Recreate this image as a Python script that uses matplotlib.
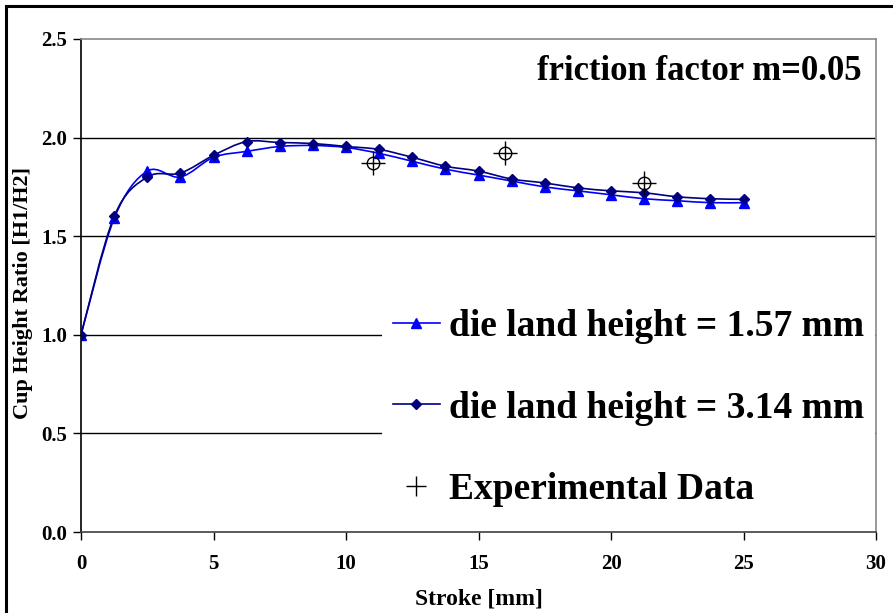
"""Cup height ratio against stroke for two die land heights, m = 0.05."""

import matplotlib

matplotlib.use("Agg")

import matplotlib.pyplot as plt
import numpy as np
from matplotlib.lines import Line2D
from matplotlib.patches import PathPatch, Rectangle
from matplotlib.path import Path

plt.rcParams["font.family"] = ["Liberation Serif", "DejaVu Serif"]
plt.rcParams["font.weight"] = "bold"

stroke = [0, 1.25, 2.5, 3.75, 5, 6.25, 7.5, 8.75, 10, 11.25, 12.5, 13.75,
          15, 16.25, 17.5, 18.75, 20, 21.25, 22.5, 23.75, 25]
ratio_157 = [1.00, 1.59, 1.83, 1.80, 1.90, 1.93, 1.955, 1.96, 1.95, 1.92, 1.88, 1.84,
             1.81, 1.78, 1.75, 1.73, 1.71, 1.69, 1.68, 1.67, 1.67]
ratio_314 = [1.00, 1.60, 1.80, 1.82, 1.91, 1.98, 1.975, 1.97, 1.955, 1.94, 1.90, 1.855,
             1.83, 1.79, 1.77, 1.745, 1.73, 1.72, 1.70, 1.69, 1.687]

exp_stroke = [11.0, 16.0, 21.25]
exp_ratio = [1.87, 1.92, 1.77]

x_ticks = [0, 5, 10, 15, 20, 25, 30]
y_ticks = [0.0, 0.5, 1.0, 1.5, 2.0, 2.5]

BLUE = "#0000FF"
NAVY = "#000080"


def smooth_path(xs, ys):
    """Catmull-Rom style cubic Bezier path through the points (like a smoothed line)."""
    pts = np.column_stack([xs, ys]).astype(float)
    verts = [pts[0]]
    codes = [Path.MOVETO]
    n = len(pts)
    for i in range(n - 1):
        p0 = pts[i - 1] if i > 0 else pts[i]
        p1 = pts[i]
        p2 = pts[i + 1]
        p3 = pts[i + 2] if i + 2 < n else pts[i + 1]
        c1 = p1 + (p2 - p0) / 6.0
        c2 = p2 - (p3 - p1) / 6.0
        verts += [c1, c2, p2]
        codes += [Path.CURVE4] * 3
    return Path(verts, codes)


fig = plt.figure(figsize=(8.93, 6.13), dpi=100)
ax = fig.add_axes([81 / 893, 1 - 532 / 613, (876 - 81) / 893, (532 - 39) / 613])

ax.set_xlim(0, 30)
ax.set_ylim(0, 2.5)
ax.set_xticks(x_ticks)
ax.set_yticks(y_ticks)
ax.set_xticklabels([str(t) for t in x_ticks])
ax.set_yticklabels([f"{t:.1f}" for t in y_ticks])
ax.tick_params(axis="both", labelsize=15, direction="out", length=6, width=1)
ax.tick_params(axis="x", pad=10)
ax.tick_params(axis="y", pad=4)

for y in y_ticks[1:-1]:
    ax.axhline(y, color="black", linewidth=1.0, zorder=0.5)

ax.spines["top"].set_color("#888888")
ax.spines["right"].set_color("#888888")
ax.spines["left"].set_color("black")
ax.spines["bottom"].set_color("#404040")
for side in ("top", "right", "left", "bottom"):
    ax.spines[side].set_linewidth(1.2)

# smoothed curves
ax.add_patch(PathPatch(smooth_path(stroke, ratio_157), facecolor="none",
                       edgecolor=BLUE, linewidth=1.2, zorder=3))
ax.add_patch(PathPatch(smooth_path(stroke, ratio_314), facecolor="none",
                       edgecolor=NAVY, linewidth=1.2, zorder=3))
ax.plot(stroke, ratio_157, linestyle="none", marker="^", markersize=6.5,
        color=BLUE, zorder=4)
ax.plot(stroke, ratio_314, linestyle="none", marker="D", markersize=5,
        color=NAVY, zorder=4)

# experimental points: circle with a cross through it
ax.plot(exp_stroke, exp_ratio, linestyle="none", marker="o", markersize=9,
        markerfacecolor="none", markeredgecolor="black", markeredgewidth=1.0, zorder=5)
ax.plot(exp_stroke, exp_ratio, linestyle="none", marker="+", markersize=17,
        color="black", markeredgewidth=1.0, zorder=5)

ax.set_xlabel("Stroke [mm]", fontsize=17, fontweight="bold", labelpad=10)
ax.set_ylabel("Cup Height Ratio [H1/H2]", fontsize=16, fontweight="bold")
# rotated label: its anchor is the baseline side, which faces right
ax.yaxis.set_label_coords(-0.061, 0.485)

ax.text(0.982, 0.935, "friction factor m=0.05", transform=ax.transAxes,
        ha="right", va="center", fontsize=25, fontweight="bold")

handles = [
    Line2D([], [], color=BLUE, marker="^", markersize=6.5, linewidth=1.2),
    Line2D([], [], color=NAVY, marker="D", markersize=5, linewidth=1.2),
    Line2D([], [], color="black", marker="+", markersize=14, linestyle="none",
           markeredgewidth=1.0),
]
labels = ["die land height = 1.57 mm", "die land height = 3.14 mm", "Experimental Data"]
leg = ax.legend(handles, labels, loc="lower left", bbox_to_anchor=(0.378, 0.027),
                frameon=True, fancybox=False, framealpha=1.0, edgecolor="none",
                prop={"size": 27, "weight": "bold"}, handlelength=1.25,
                handletextpad=0.25, labelspacing=1.25, borderpad=0.3,
                borderaxespad=0.0)
leg.set_zorder(2)

# outer frame around the whole figure
fig.patches.append(Rectangle((6 / 893, -0.05), 1.1, 1 - 6 / 613 + 0.05,
                             transform=fig.transFigure, fill=False,
                             edgecolor="black", linewidth=2.2))

fig.savefig("out.png", dpi=100)
